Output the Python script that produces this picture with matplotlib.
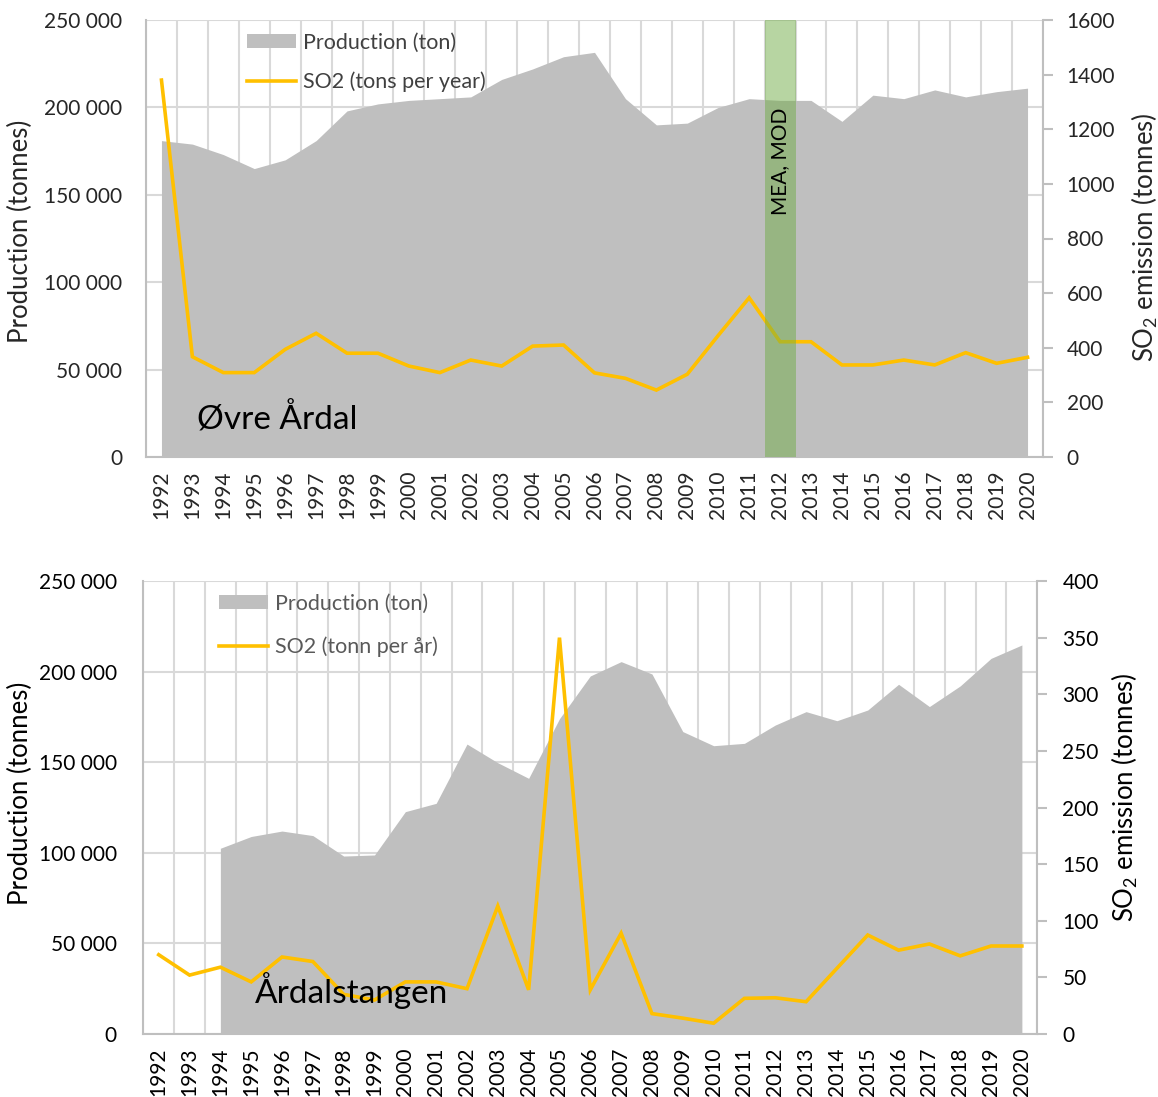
import numpy as np
import matplotlib
matplotlib.use("Agg")
import matplotlib.pyplot as plt
from matplotlib.patches import Patch
from matplotlib.lines import Line2D
from matplotlib.ticker import FuncFormatter, FixedLocator

plt.rcParams['font.family'] = ['Lato', 'DejaVu Sans']
plt.rcParams['mathtext.default'] = 'regular'

years = [str(y) for y in range(1992, 2021)]

# Øvre Årdal
ovre_production = [181000, 179000, 173000, 165000, 170000, 181000, 198000, 202000,
                   204000, 205000, 206000, 216000, 222000, 229000, 231500, 205000,
                   190000, 191000, 200000, 205000, 204000, 204000, 192000, 207000,
                   205000, 210000, 206000, 209000, 211000]
ovre_so2 = [1380, 367, 309, 309, 394, 453, 380, 380, 333, 309, 355, 333, 406, 410,
            308, 288, 245, 303, 445, 583, 422, 422, 337, 337, 355, 337, 382, 343, 365]

# Årdalstangen (production reported from 1994)
ardal_production = [np.nan, np.nan, 102500, 109000, 112000, 109500, 98200, 98800,
                    122700, 127300, 160000, 149700, 141100, 174000, 197600, 205500,
                    198700, 166900, 159100, 160400, 170500, 177900, 172900, 178800,
                    193000, 180700, 192100, 207300, 214700]
ardal_so2 = [70, 52, 59, 46, 68, 64, 35, 30, 46, 46, 40, 113, 39, 350, 39, 89, 18,
             14, 9.5, 31.5, 32, 28.5, 58, 87.4, 74, 79.5, 69, 77.7, 77.7]

prod_ticks = [0, 50000, 100000, 150000, 200000, 250000]
ovre_so2_ticks = [0, 200, 400, 600, 800, 1000, 1200, 1400, 1600]
ardal_so2_ticks = [0, 50, 100, 150, 200, 250, 300, 350, 400]
measure_year = "2012"

AREA = '#bfbfbf'
LINE = '#ffc000'
GRID = '#d9d9d9'
SPINE = '#bfbfbf'

TICK_FS = 15
LABEL_FS = 18.5
LEGEND_FS = 15.5

fig = plt.figure(figsize=(11.58, 10.97), dpi=100)


def space_thousands(v, _pos=None):
    return f"{int(v):,}".replace(",", " ")


def draw_panel(rect, production, so2, so2_ticks, place, legend_so2, text_color,
               legend_color, label_pos, legend_x, legend_gap, place_xy, lpad, rpad):
    ax = fig.add_axes(rect)
    x = np.arange(len(years))
    ax.set_axisbelow(True)
    ax.fill_between(x, 0, production, color=AREA, lw=0, zorder=1)
    ax.set_xlim(-0.5, len(years) - 0.5)
    ax.set_ylim(prod_ticks[0], prod_ticks[-1])
    ax.yaxis.set_major_locator(FixedLocator(prod_ticks))
    ax.yaxis.set_major_formatter(FuncFormatter(space_thousands))
    ax.set_xticks(x)
    ax.set_xticklabels(years, rotation=90)
    ax.set_xticks(np.arange(-0.5, len(years)), minor=True)
    ax.grid(axis='x', which='minor', color=GRID, lw=1.5, zorder=0)
    ax.grid(axis='y', which='major', color=GRID, lw=1.5, zorder=0)
    ax.tick_params(axis='x', which='both', length=0, pad=10, labelsize=TICK_FS,
                   labelcolor=text_color)
    ax.tick_params(axis='y', length=0, pad=lpad, labelsize=TICK_FS,
                   labelcolor=text_color)
    for s in ['top', 'right']:
        ax.spines[s].set_visible(False)
    for s in ['left', 'bottom']:
        ax.spines[s].set_color(SPINE)
        ax.spines[s].set_linewidth(1.5)
    ax.set_ylabel('Production (tonnes)', fontsize=LABEL_FS, color=text_color)
    ax.yaxis.set_label_coords(*label_pos[0])

    ax2 = ax.twinx()
    ax2.plot(x, so2, color=LINE, lw=2.6, solid_joinstyle='miter', zorder=3)
    ax2.set_ylim(so2_ticks[0], so2_ticks[-1])
    ax2.yaxis.set_major_locator(FixedLocator(so2_ticks))
    ax2.tick_params(axis='y', direction='out', length=7, width=1.5, color=SPINE,
                    pad=rpad, labelsize=TICK_FS, labelcolor=text_color)
    for s in ['top', 'left', 'bottom']:
        ax2.spines[s].set_visible(False)
    ax2.spines['right'].set_color(SPINE)
    ax2.spines['right'].set_linewidth(1.5)
    ax2.set_ylabel('SO$_2$ emission (tonnes)', fontsize=LABEL_FS, color=text_color)
    ax2.yaxis.set_label_coords(*label_pos[1])

    handles = [Patch(facecolor=AREA, edgecolor='none'),
               Line2D([0], [0], color=LINE, lw=2.6)]
    leg = ax2.legend(handles, ['Production (ton)', legend_so2], loc='upper left',
                     bbox_to_anchor=(legend_x, 1.0), frameon=False, fontsize=LEGEND_FS,
                     handlelength=2.3, handleheight=0.6, handletextpad=0.3,
                     labelspacing=legend_gap, borderaxespad=0.2)
    for t in leg.get_texts():
        t.set_color(legend_color)

    ax2.text(place_xy[0], place_xy[1], place, transform=ax2.transAxes,
             fontsize=24, color='black', ha='left', va='baseline', zorder=6)
    return ax, ax2


top_ax, top_ax2 = draw_panel(
    [146 / 1158, 1 - 457 / 1097, 897 / 1158, 437 / 1097],
    ovre_production, ovre_so2, ovre_so2_ticks, 'Øvre Årdal', 'SO2 (tons per year)',
    '#262626', '#404040', [(-0.126, 0.517), (1.097, 0.503)], 0.098, 0.85,
    (0.057, 0.062), 17, 10)

# Period when the measures were implemented
mi = years.index(measure_year)
top_ax2.axvspan(mi - 0.5, mi + 0.5, color='#70ad47', alpha=0.5, lw=0, zorder=4)
top_ax2.text(mi, 0.80, 'MEA, MOD', transform=top_ax2.get_xaxis_transform(),
             rotation=90, ha='center', va='top', fontsize=15, color='black', zorder=5)

draw_panel(
    [143.3 / 1158, 1 - 1034 / 1097, 894 / 1158, 453 / 1097],
    ardal_production, ardal_so2, ardal_so2_ticks, 'Årdalstangen', 'SO2 (tonn per år)',
    'black', '#595959', [(-0.123, 0.532), (1.081, 0.523)], 0.07, 1.05,
    (0.125, 0.068), 19, 11)

fig.savefig('out.png', dpi=100, facecolor='white')
